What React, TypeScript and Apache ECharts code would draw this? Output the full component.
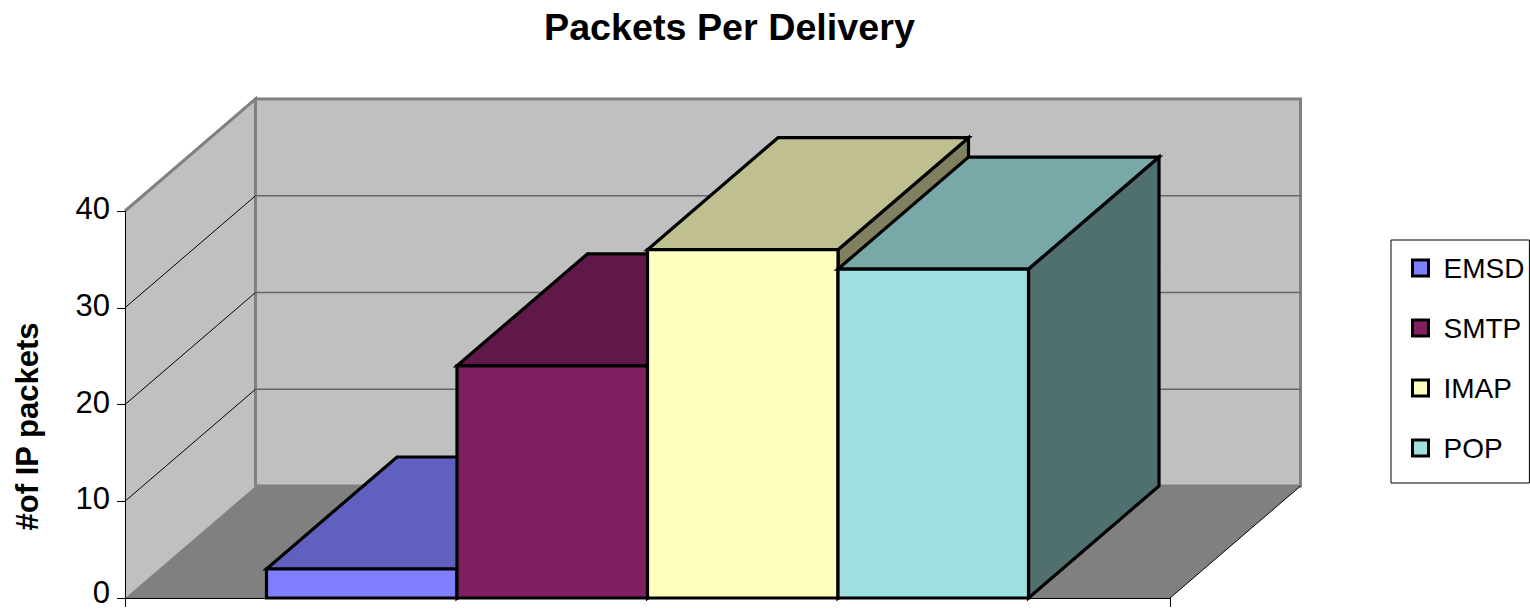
import React, { useEffect, useRef } from "react";
import * as echarts from "echarts";

const categories = [""];
const seriesNames = ["EMSD", "SMTP", "IMAP", "POP"];
const emsdValues = [3];
const smtpValues = [24];
const imapValues = [36];
const popValues = [34];
const seriesValues = [emsdValues, smtpValues, imapValues, popValues];
const frontColors = ["#8080FF", "#802060", "#FFFFC0", "#A0E0E0"];
const topColors = ["#6060C0", "#601848", "#BFBF90", "#78A8A8"];
const sideColors = ["#404080", "#401030", "#808060", "#507070"];
const gridValues = [10, 20, 30];
const yMax = 40;

const DX = 130.5;
const DY = -112;
const BAR_FRACTION = 0.1823;

function renderWalls(_: any, api: any) {
  const bl = api.coord([0, 0]);
  const tl = api.coord([0, yMax]);
  const band = api.size([1, 0])[0];
  const l = bl[0] - band / 2;
  const r = bl[0] + band / 2;
  const b = bl[1];
  const t = tl[1];
  const children: any[] = [
    { type: "polygon", shape: { points: [[l + DX, t + DY], [r + DX, t + DY], [r + DX, b + DY], [l + DX, b + DY]] }, style: { fill: "#C0C0C0", stroke: "#808080", lineWidth: 3 } },
    { type: "polygon", shape: { points: [[l, b], [l, t], [l + DX, t + DY], [l + DX, b + DY]] }, style: { fill: "#C0C0C0", stroke: "none" } },
    { type: "polyline", shape: { points: [[l, t], [l + DX, t + DY], [l + DX, b + DY]] }, style: { fill: "none", stroke: "#808080", lineWidth: 3 } },
  ];
  gridValues.forEach((v) => {
    const y = api.coord([0, v])[1];
    children.push({ type: "line", shape: { x1: l, y1: y, x2: l + DX, y2: y + DY }, style: { stroke: "#000", lineWidth: 1 } });
    children.push({ type: "line", shape: { x1: l + DX, y1: y + DY, x2: r + DX, y2: y + DY }, style: { stroke: "#666", lineWidth: 1.5 } });
  });
  children.push({ type: "polygon", shape: { points: [[l, b], [l + DX, b + DY], [r + DX, b + DY], [r, b]] }, style: { fill: "#808080", stroke: "none" } });
  children.push({ type: "line", shape: { x1: r, y1: b, x2: r + DX, y2: b + DY }, style: { stroke: "#000", lineWidth: 1 } });
  return { type: "group", children };
}

function makeBarRenderer(idx: number) {
  return (_: any, api: any) => {
    const base = api.coord([api.value(0), 0]);
    const top = api.coord([api.value(0), api.value(1)]);
    const w = api.size([1, 0])[0] * BAR_FRACTION;
    const x0 = base[0] - 2 * w + idx * w;
    const x1 = x0 + w;
    const stroke = { stroke: "#000", lineWidth: 3.2, lineJoin: "miter" };
    const front = [[x0, top[1]], [x1, top[1]], [x1, base[1]], [x0, base[1]]];
    const topFace = [[x0, top[1]], [x0 + DX, top[1] + DY], [x1 + DX, top[1] + DY], [x1, top[1]]];
    const side = [[x1, top[1]], [x1 + DX, top[1] + DY], [x1 + DX, base[1] + DY], [x1, base[1]]];
    return {
      type: "group",
      children: [
        { type: "polygon", shape: { points: side }, style: { fill: sideColors[idx], ...stroke } },
        { type: "polygon", shape: { points: topFace }, style: { fill: topColors[idx], ...stroke } },
        { type: "polygon", shape: { points: front }, style: { fill: frontColors[idx], ...stroke } },
      ],
    };
  };
}

export default function App() {
  const ref = useRef<HTMLDivElement>(null);
  useEffect(() => {
    const chart = echarts.init(ref.current!, undefined, { renderer: "svg" });
    const font = "'Liberation Sans', Arial, sans-serif";
    chart.setOption({
      animation: false,
      backgroundColor: "#fff",
      title: {
        text: "Packets Per Delivery",
        left: 544,
        top: 8,
        padding: 0,
        textStyle: { fontFamily: font, fontSize: 37.7, fontWeight: "bold", color: "#000" },
      },
      grid: { left: 125, top: 211, width: 1045, height: 387, outerBoundsMode: "none" },
      legend: {
        orient: "vertical",
        left: 1391,
        top: 240,
        padding: [14, 5, 21, 20],
        itemWidth: 16,
        itemHeight: 16,
        itemGap: 32,
        borderColor: "#000",
        borderWidth: 1,
        textStyle: { fontFamily: font, fontSize: 28, color: "#000", padding: [0, 0, 0, 10] },
        data: seriesNames.map((name, i) => ({
          name,
          icon: "rect",
          itemStyle: { color: frontColors[i], borderColor: "#000", borderWidth: 3 },
        })),
      },
      xAxis: {
        type: "category",
        data: categories,
        z: 10,
        axisLine: { lineStyle: { color: "#000", width: 1 } },
        axisTick: { show: true, length: 9, lineStyle: { color: "#000" } },
        axisLabel: { show: false },
        splitLine: { show: false },
      },
      yAxis: {
        type: "value",
        min: 0,
        max: yMax,
        interval: 10,
        z: 10,
        name: "#of IP packets",
        nameLocation: "middle",
        nameRotate: 90,
        nameGap: 82,
        nameTextStyle: { fontFamily: font, fontSize: 31, fontWeight: "bold", color: "#000", padding: [0, 44, 0, 0] },
        axisLine: { show: true, lineStyle: { color: "#000", width: 1 } },
        axisTick: { show: true, length: 8, lineStyle: { color: "#000" } },
        axisLabel: {
          fontFamily: font,
          fontSize: 31,
          lineHeight: 24,
          color: "#000",
          margin: 15,
          padding: [0, 0, 5, 0],
          formatter: (v: number) => (v === 0 ? "{z|0}" : String(v)),
          rich: { z: { fontFamily: font, fontSize: 31, lineHeight: 24, color: "#000", padding: [0, 0, 7, 0] } },
        },
        splitLine: { show: false },
      },
      series: [
        {
          type: "custom",
          name: "walls",
          silent: true,
          clip: false,
          renderItem: renderWalls,
          data: [[0, 0]],
          encode: { x: 0, y: 1 },
        },
        ...seriesNames.map((name, i) => ({
          type: "custom",
          name,
          clip: false,
          renderItem: makeBarRenderer(i),
          itemStyle: { color: frontColors[i] },
          data: seriesValues[i].map((v, c) => [c, v]),
          encode: { x: 0, y: 1 },
        })),
      ],
    });
    return () => chart.dispose();
  }, []);
  return <div ref={ref} style={{ position: "fixed", left: 0, top: 0, width: 1530, height: 610 }} />;
}
